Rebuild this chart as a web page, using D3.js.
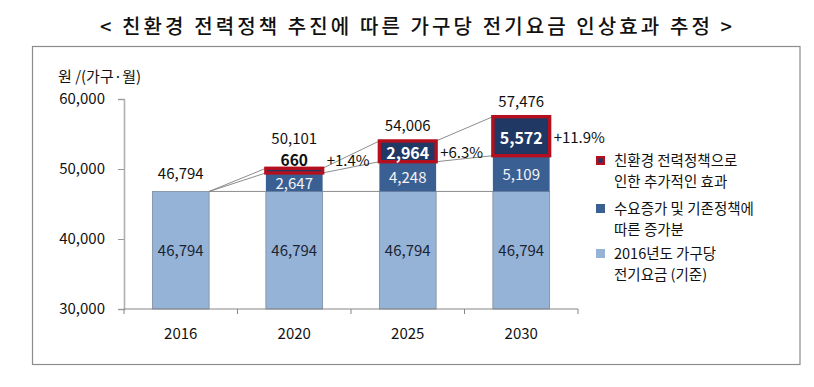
<!DOCTYPE html>
<html><head><meta charset="utf-8">
<script src="https://cdn.jsdelivr.net/npm/d3@7"></script>
<style>
body{margin:0;background:#fff;}
text{font-family:"Noto Sans CJK KR","Malgun Gothic",sans-serif;}
</style></head>
<body><svg id="c" width="814" height="387"></svg>
<script>
const years = ["2016","2020","2025","2030"];
const baseValues = [46794,46794,46794,46794];
const demandValues = [0,2647,4248,5109];
const policyValues = [0,660,2964,5572];
const totalLabels = ["46,794","50,101","54,006","57,476"];
const pctLabels = [null,"+1.4%","+6.3%","+11.9%"];
const yTicks = [30000,40000,50000,60000];
const titleText = "< 친환경 전력정책 추진에 따른 가구당 전기요금 인상효과 추정 >";
const unitText = "원 /(가구·월)";
const legendLines = [["친환경 전력정책으로","인한 추가적인 효과"],["수요증가 및 기존정책에","따른 증가분"],["2016년도 가구당","전기요금 (기준)"]];

const C = {base:"#95b3d7", demand:"#3a5f93", policyFill:"#1f3864", policyStroke:"#b40f1e"};

const svg = d3.select("#c");
svg.append("rect").attr("x",32.5).attr("y",46.5).attr("width",767.5).attr("height",318)
  .attr("fill","none").attr("stroke","#8c8c8c").attr("stroke-width",1.2);

svg.append("text").attr("x",100).attr("y",34).attr("textLength",632).attr("lengthAdjust","spacing")
  .attr("font-size",20).attr("font-weight",500).attr("fill","#111").text(titleText);

const yMin = yTicks[0];
const x = d3.scaleBand().domain(years).range([124,578]).paddingInner(0.5).paddingOuter(0.25);
const y = d3.scaleLinear().domain([yMin,yTicks[yTicks.length-1]]).range([309,99]);
const bw = x.bandwidth();
const yc = v => y(Math.max(v,yMin));

const rows = years.map((yr,i)=>({year:yr, base:baseValues[i], demand:demandValues[i], policy:policyValues[i]}));
const stack = d3.stack().keys(["base","demand","policy"])(rows);

// series lines
const lineG = svg.append("g");
stack.forEach(s=>{
  for(let i=0;i<rows.length-1;i++){
    lineG.append("line")
      .attr("x1",x(years[i])+bw).attr("y1",y(s[i][1]))
      .attr("x2",x(years[i+1])).attr("y2",y(s[i+1][1]))
      .attr("stroke","#808080").attr("stroke-width",0.9);
  }
});

// bars
const bars = svg.append("g");
bars.selectAll("rect.b").data(stack[0]).join("rect")
  .attr("x",d=>x(d.data.year)).attr("y",d=>yc(d[1])).attr("width",bw).attr("height",d=>yc(d[0])-yc(d[1]))
  .attr("fill",C.base).attr("stroke","#7d8a9c").attr("stroke-width",0.8);
bars.selectAll("rect.d").data(stack[1].filter(d=>d.data.demand>0)).join("rect")
  .attr("x",d=>x(d.data.year)).attr("y",d=>yc(d[1])).attr("width",bw).attr("height",d=>yc(d[0])-yc(d[1]))
  .attr("fill",C.demand);
bars.selectAll("rect.p").data(stack[2].filter(d=>d.data.policy>0)).join("rect")
  .attr("x",d=>x(d.data.year)).attr("y",d=>yc(d[1])).attr("width",bw).attr("height",d=>yc(d[0])-yc(d[1]))
  .attr("fill",C.policyFill).attr("stroke",C.policyStroke).attr("stroke-width",3.4);

// y axis
const ya = svg.append("g").attr("transform","translate(124,0)")
  .call(d3.axisLeft(y).tickValues(yTicks).tickSize(6).tickPadding(13).tickFormat(d3.format(",")));
ya.select(".domain").attr("stroke","#b0b0b0").attr("stroke-width",1.6);
ya.selectAll(".tick line").attr("stroke","#9a9a9a");
ya.selectAll("text").attr("font-size",15).attr("fill","#111").attr("font-family","Noto Sans CJK KR");

svg.append("text").attr("x",58).attr("y",82).attr("font-size",15).attr("fill","#111").text(unitText);

// x axis
const xa = svg.append("g").attr("transform","translate(0,309)");
xa.append("line").attr("x1",124).attr("x2",578).attr("stroke","#868686");
const step = x.step();
const edges = years.map(yr=>x(yr)-(step-bw)/2).concat([x(years[years.length-1])+bw+(step-bw)/2]);
xa.selectAll("line.t").data(edges).join("line").attr("class","t").attr("x1",d=>d).attr("x2",d=>d).attr("y1",0).attr("y2",5).attr("stroke","#868686");
xa.selectAll("text").data(years).join("text").attr("x",d=>x(d)+bw/2).attr("y",29.5)
  .attr("text-anchor","middle").attr("font-size",15).attr("fill","#111").text(d=>d);

// labels
const fmt = d3.format(",");
const lab = svg.append("g").attr("font-size",15).attr("text-anchor","middle");
rows.forEach((r,i)=>{
  const cx = x(r.year)+bw/2;
  const s0 = stack[0][i], s1 = stack[1][i], s2 = stack[2][i];
  lab.append("text").attr("x",cx).attr("y",(yc(s0[0])+yc(s0[1]))/2+6).attr("fill","#1b2433").text(fmt(r.base));
  if(r.demand>0){
    lab.append("text").attr("x",cx).attr("y",(y(s1[0])+y(s1[1]))/2+6.5).attr("fill","#f4f4f4").text(fmt(r.demand));
  }
  let topLabelY;
  if(r.policy>0){
    const h = y(s2[0])-y(s2[1]);
    let py;
    if(h<20){
      py = y(s2[1]) - 8;
      lab.append("text").attr("x",cx).attr("y",py+5.5).attr("font-weight","bold").attr("font-size",15.5).attr("fill","#111").text(fmt(r.policy));
      topLabelY = py - 22.5;
    } else {
      py = (y(s2[0])+y(s2[1]))/2 + 1.5;
      lab.append("text").attr("x",cx).attr("y",py+6).attr("font-weight","bold").attr("font-size",16).attr("fill","#fff").text(fmt(r.policy));
      topLabelY = y(s2[1]) - 16;
    }
    lab.append("text").attr("x",x(r.year)+bw+4).attr("y",py+5.5).attr("text-anchor","start").attr("fill","#111").text(pctLabels[i]);
  } else {
    topLabelY = y(s0[1]) - 18;
  }
  lab.append("text").attr("x",cx).attr("y",topLabelY+6).attr("fill","#111").text(totalLabels[i]);
});

// legend
const leg = svg.append("g");
const legY = [160.5, 208.5, 253.5];
legendLines.forEach((lines,i)=>{
  const g = leg.append("g").attr("transform",`translate(596,${legY[i]})`);
  if(i===0){
    g.append("rect").attr("x",1.2).attr("y",-3.3).attr("width",6.6).attr("height",6.6).attr("fill",C.policyFill).attr("stroke",C.policyStroke).attr("stroke-width",2.4);
  } else {
    g.append("rect").attr("x",0).attr("y",-4.5).attr("width",9).attr("height",9).attr("fill",i===1?C.demand:C.base);
  }
  lines.forEach((line,j)=>{
    g.append("text").attr("x",18).attr("y",5.3 + j*21).attr("font-size",14.5).attr("fill","#111").text(line);
  });
});
</script></body></html>
